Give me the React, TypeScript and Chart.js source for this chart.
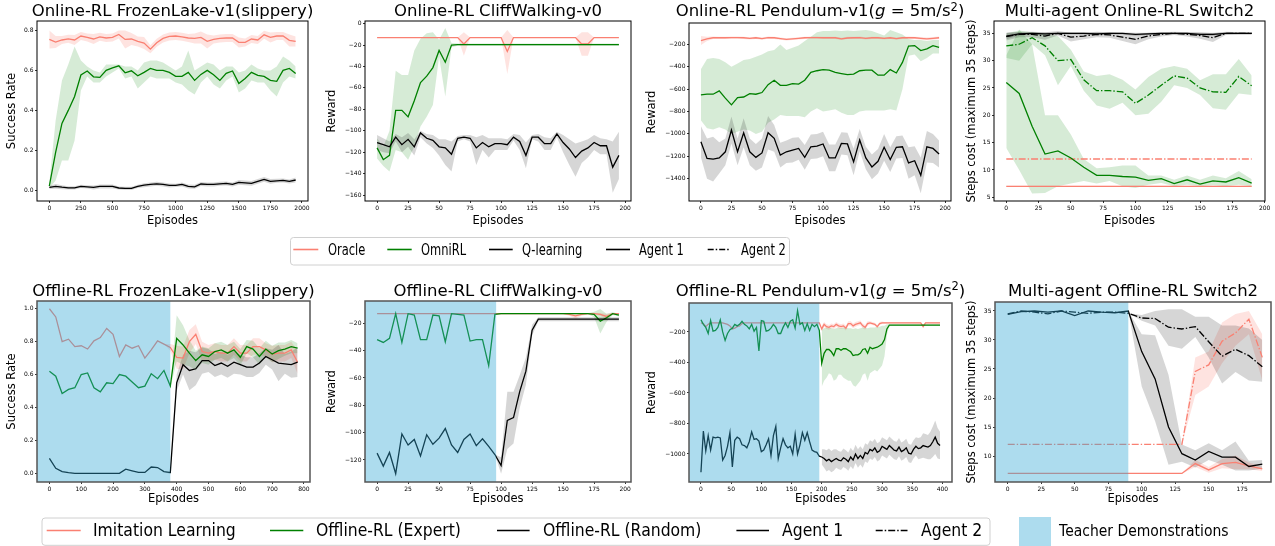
import React, { useEffect, useRef } from "react";
import { Chart, registerables } from "chart.js";
Chart.register(...registerables);

const FONT = "'DejaVu Sans', 'Noto Sans', sans-serif";
const SALMON = "#fa8072";
const GREEN = "#008000";
const BLACK = "#000000";
const SALMON_BAND = "rgba(250,128,114,0.22)";
const GREEN_BAND = "rgba(0,128,0,0.16)";
const BLACK_BAND = "rgba(0,0,0,0.16)";
const TEACHER_OVERLAY = "rgba(50,167,212,0.4)";
const TEACHER_PATCH = "#addcee";
const DASHDOT = [7, 2, 1.4, 2];

// ---------------- DATA ----------------
// Panel 1: Online-RL FrozenLake
const p1Episodes = [0,50,100,150,200,250,300,350,400,450,500,550,600,650,700,750,800,850,900,950,1000,1050,1100,1150,1200,1250,1300,1350,1400,1450,1500,1550,1600,1650,1700,1750,1800,1850,1900,1950];
const p1Oracle = [0.755,0.742,0.752,0.758,0.752,0.772,0.765,0.757,0.768,0.762,0.765,0.78,0.755,0.757,0.745,0.737,0.706,0.738,0.76,0.77,0.772,0.768,0.762,0.76,0.765,0.745,0.755,0.76,0.762,0.762,0.74,0.74,0.757,0.752,0.778,0.765,0.772,0.772,0.75,0.745];
const p1OracleSpread = [0.045,0.03,0.02,0.02,0.025,0.02,0.02,0.025,0.02,0.02,0.02,0.02,0.045,0.03,0.025,0.03,0.02,0.02,0.02,0.02,0.02,0.02,0.02,0.025,0.03,0.035,0.02,0.02,0.02,0.02,0.025,0.02,0.02,0.02,0.02,0.025,0.02,0.02,0.03,0.025];
const p1Omni = [0.022,0.19,0.335,0.40,0.47,0.577,0.597,0.568,0.565,0.60,0.613,0.623,0.588,0.598,0.573,0.59,0.61,0.60,0.60,0.59,0.57,0.57,0.59,0.55,0.58,0.60,0.578,0.55,0.585,0.597,0.535,0.56,0.59,0.575,0.57,0.55,0.545,0.60,0.61,0.585];
const p1OmniHi = [0.04,0.35,0.55,0.63,0.72,0.65,0.62,0.60,0.59,0.63,0.63,0.63,0.62,0.62,0.60,0.64,0.65,0.65,0.64,0.62,0.60,0.62,0.70,0.60,0.62,0.64,0.63,0.60,0.62,0.62,0.59,0.60,0.63,0.61,0.60,0.60,0.62,0.67,0.65,0.62];
const p1OmniLo = [0.01,0.05,0.15,0.15,0.25,0.50,0.57,0.54,0.54,0.57,0.59,0.61,0.56,0.57,0.51,0.54,0.57,0.56,0.56,0.56,0.54,0.53,0.50,0.48,0.54,0.57,0.53,0.51,0.55,0.57,0.49,0.51,0.55,0.54,0.54,0.50,0.47,0.54,0.57,0.56];
const p1Q = [0.015,0.02,0.016,0.013,0.013,0.02,0.018,0.015,0.02,0.02,0.02,0.012,0.01,0.01,0.02,0.026,0.03,0.033,0.03,0.025,0.025,0.03,0.02,0.018,0.032,0.03,0.03,0.033,0.035,0.03,0.04,0.038,0.035,0.045,0.055,0.045,0.048,0.05,0.045,0.052];
const p1QSpread = [0.008,0.012,0.01,0.008,0.008,0.008,0.008,0.01,0.01,0.01,0.01,0.008,0.008,0.008,0.008,0.01,0.01,0.01,0.01,0.01,0.008,0.01,0.01,0.01,0.01,0.01,0.01,0.01,0.01,0.01,0.012,0.012,0.012,0.012,0.012,0.012,0.01,0.01,0.01,0.012];

// Panel 2: Online-RL CliffWalking
const p2Episodes = [0,5,10,15,20,25,30,35,40,45,50,55,60,65,70,75,80,85,90,95,100,105,110,115,120,125,130,135,140,145,150,155,160,165,170,175,180,185,190,195];
const p2Oracle = [-13,-13,-13,-13,-13,-13,-13,-13,-13,-13,-13,-13,-13,-13,-19,-13,-13,-13,-13,-13,-13,-26,-13,-13,-13,-13,-13,-13,-13,-13,-13,-13,-13,-19,-19,-13,-13,-13,-13,-13];
const p2OracleLo = [-13,-13,-13,-13,-13,-13,-13,-13,-13,-13,-13,-13,-13,-13,-30,-13,-13,-13,-13,-13,-13,-47,-13,-13,-13,-13,-13,-13,-13,-13,-13,-13,-13,-30,-30,-13,-13,-13,-13,-13];
const p2OracleHi = [-13,-13,-13,-13,-13,-13,-13,-13,-13,-13,-13,-13,-13,-13,-8,-13,-13,-13,-13,-13,-13,-6,-13,-13,-13,-13,-13,-13,-13,-13,-13,-13,-13,-8,-8,-13,-13,-13,-13,-13];
const p2Omni = [-116,-127,-123,-81,-81,-87,-72,-55,-49,-41,-25,-36,-20,-19.5,-19.5,-19.5,-19.5,-19.5,-19.5,-19.5,-19.5,-19.5,-19.5,-19.5,-19.5,-19.5,-19.5,-19.5,-19.5,-19.5,-19.5,-19.5,-19.5,-19.5,-19.5,-19.5,-19.5,-19.5,-19.5,-19.5];
const p2OmniHi = [-107,-115,-100,-44,-48,-48,-25,-14,-9,-8,-15,-4,-18,-18.5,-18.5,-18.5,-18.5,-18.5,-18.5,-18.5,-18.5,-18.5,-18.5,-18.5,-18.5,-18.5,-18.5,-18.5,-18.5,-18.5,-18.5,-18.5,-18.5,-18.5,-18.5,-18.5,-18.5,-18.5,-18.5,-18.5];
const p2OmniLo = [-126,-133,-138,-118,-120,-127,-115,-96,-87,-76,-31,-68,-22,-20.5,-20.5,-20.5,-20.5,-20.5,-20.5,-20.5,-20.5,-20.5,-20.5,-20.5,-20.5,-20.5,-20.5,-20.5,-20.5,-20.5,-20.5,-20.5,-20.5,-20.5,-20.5,-20.5,-20.5,-20.5,-20.5,-20.5];
const p2Q = [-111,-113,-115,-106,-113,-108,-115,-102,-107,-109,-115,-116,-122,-107,-106,-107,-116,-111,-115,-112,-112,-113,-106,-110,-123,-106,-106,-112,-112,-103,-111,-117,-125,-119,-116,-111,-114,-114,-134,-123];
const p2QHi = [-104,-107,-110,-103,-106,-102,-108,-100,-103,-104,-108,-108,-110,-105,-104,-104,-106,-104,-107,-107,-107,-108,-103,-104,-111,-104,-103,-106,-107,-101,-104,-108,-112,-110,-108,-104,-107,-108,-110,-101];
const p2QLo = [-118,-120,-121,-110,-120,-115,-123,-106,-112,-116,-123,-132,-138,-110,-108,-110,-132,-118,-125,-118,-118,-118,-109,-118,-135,-108,-110,-118,-118,-106,-120,-132,-143,-130,-125,-118,-122,-122,-158,-145];

// Panel 3: Online-RL Pendulum
const p3Episodes = p2Episodes;
const p3Oracle = [-165,-150,-140,-140,-140,-138,-138,-140,-145,-140,-148,-138,-140,-148,-155,-150,-145,-140,-138,-138,-140,-140,-140,-150,-142,-140,-138,-145,-140,-140,-145,-140,-148,-140,-138,-140,-145,-150,-145,-140];
const p3OracleSpread = [40,20,12,10,10,10,10,10,10,10,10,10,10,10,10,10,10,10,10,10,10,10,10,10,10,10,10,10,10,10,10,10,10,10,10,10,12,12,12,12];
const p3Omni = [-650,-645,-645,-615,-680,-740,-675,-670,-640,-645,-630,-560,-520,-565,-565,-550,-555,-520,-450,-435,-425,-430,-450,-460,-470,-465,-435,-430,-430,-475,-475,-425,-455,-360,-215,-210,-255,-240,-210,-225];
const p3OmniHi = [-420,-330,-320,-330,-360,-400,-370,-340,-330,-310,-290,-260,-250,-200,-250,-230,-210,-170,-130,-90,-80,-80,-75,-80,-75,-80,-75,-70,-80,-100,-120,-70,-90,-110,-150,-160,-160,-170,-160,-160];
const p3OmniLo = [-880,-950,-960,-940,-960,-1000,-980,-960,-970,-1000,-980,-900,-870,-830,-840,-840,-840,-850,-800,-770,-800,-790,-780,-810,-830,-830,-800,-790,-790,-790,-790,-780,-790,-600,-300,-290,-350,-320,-280,-280];
const p3Q = [-1070,-1220,-1225,-1215,-1160,-965,-1160,-990,-1160,-1210,-1170,-990,-1040,-1190,-1160,-1145,-1130,-1210,-1115,-1110,-1090,-1215,-1215,-1085,-1090,-1250,-1055,-1215,-1295,-1245,-1120,-1230,-1120,-1115,-1260,-1240,-1370,-1115,-1130,-1180];
const p3QSpread = [140,180,200,140,120,120,120,130,120,120,130,150,120,110,100,110,100,110,110,110,110,120,120,100,100,120,100,100,110,110,120,110,100,100,140,130,160,140,130,120];

// Panel 4: Multi-agent Online-RL Switch2
const p4Episodes = [0,10,20,30,40,50,60,70,80,90,100,110,120,130,140,150,160,170,180,190];
const p4OracleA1 = [7,7,7,7,7,7,7,7,7,7,7,7,7,7,7,7,7,7,7,7];
const p4OracleA2 = [12,12,12,12,12,12,12,12,12,12,12,12,12,12,12,12,12,12,12,12];
const p4OracleSpread = [0.12,0.12,0.12,0.12,0.12,0.12,0.12,0.12,0.12,0.12,0.12,0.12,0.12,0.12,0.12,0.12,0.12,0.12,0.12,0.12];
const p4OmniA1 = [26,24,18,12.9,13.5,12.2,10.5,9,9,8.8,8.7,8.1,8.4,7.5,8.2,7.4,8,7.8,8.6,7.6];
const p4OmniA1Hi = [31,35.7,33,20,20,16.5,12,10.3,10.5,10.8,10.8,9,9,8.2,9,8.2,9,8.5,9.8,8.3];
const p4OmniA1Lo = [14,10,5.7,5.8,7,7.5,8,7.5,8,7,6.7,7.3,7.6,7,7.3,7,7.2,7,7.3,7];
const p4OmniA2 = [32.7,33,34.2,32.7,30,30.2,26.5,24.5,24.5,24.3,22.2,23.7,25.5,27.2,26.8,25,24.3,24.2,27.1,25.4];
const p4OmniA2Hi = [35,35.5,35.2,35,34.5,32,28,27.2,27.5,26.5,24.7,27,28.5,29,28.5,26.4,27.5,27.5,30.3,27.3];
const p4OmniA2Lo = [30.5,30,33,31,25.5,29,24.5,21.8,21.2,22.3,20,20.3,22.5,25.5,25,23.7,21.3,21,24,23.7];
const p4QA1 = [34.5,34.9,35,34.9,35,35,35,34.9,35,35,34.8,34.9,35,35,35,34.8,34.8,35,35,35];
const p4QA1Spread = [0.6,0.3,0.2,0.3,0.2,0.2,0.2,0.3,0.2,0.2,0.3,0.2,0.2,0.2,0.2,0.3,0.3,0.2,0.2,0.2];
const p4QA2 = [34.4,34.8,34.8,34.5,35,34.3,34.5,34.8,34.7,34.3,33.9,34.5,34.8,35,34.8,34.6,34.2,35,35,35];
const p4QA2Spread = [0.7,0.5,0.5,0.7,0.4,0.8,0.6,0.5,0.5,0.7,0.9,0.6,0.4,0.3,0.4,0.6,0.8,0.3,0.2,0.2];

// Panel 5: Offline-RL FrozenLake
const p5Episodes = [0,20,40,60,80,100,120,140,160,180,200,220,240,260,280,300,320,340,360,380,400,420,440,460,480,500,520,540,560,580,600,620,640,660,680,700,720,740,760,780];
const p5IL = [1.0,0.95,0.80,0.815,0.77,0.775,0.755,0.805,0.825,0.88,0.845,0.71,0.78,0.76,0.775,0.70,0.75,0.805,0.785,0.765,0.705,0.70,0.80,0.845,0.74,0.73,0.74,0.73,0.73,0.77,0.73,0.73,0.77,0.77,0.75,0.725,0.73,0.73,0.75,0.675];
const p5ILSpread = [0,0,0,0,0,0,0,0,0,0,0,0,0,0,0,0,0,0,0,0.02,0.07,0.07,0.07,0.06,0.06,0.05,0.05,0.05,0.05,0.05,0.05,0.05,0.05,0.05,0.04,0.05,0.05,0.05,0.05,0.07];
const p5Expert = [0.62,0.59,0.485,0.51,0.52,0.60,0.61,0.52,0.495,0.55,0.545,0.60,0.59,0.555,0.52,0.53,0.605,0.575,0.625,0.53,0.82,0.78,0.73,0.685,0.72,0.71,0.74,0.75,0.73,0.75,0.705,0.77,0.755,0.71,0.755,0.725,0.745,0.755,0.77,0.76];
const p5ExpertSpread = [0,0,0,0,0,0,0,0,0,0,0,0,0,0,0,0,0,0,0,0.01,0.14,0.12,0.08,0.06,0.05,0.05,0.05,0.05,0.05,0.05,0.05,0.04,0.05,0.05,0.05,0.05,0.05,0.04,0.04,0.03];
const p5Random = [0.09,0.03,0.01,0.004,0,0,0,0,0,0,0,0,0.025,0.015,0.005,0.005,0.038,0.035,0.01,0.004,0.55,0.66,0.625,0.635,0.685,0.685,0.655,0.67,0.65,0.675,0.66,0.645,0.645,0.67,0.71,0.69,0.67,0.665,0.66,0.675];
const p5RandomSpread = [0,0,0,0,0,0,0,0,0,0,0,0,0,0,0,0,0,0,0,0.01,0.05,0.06,0.12,0.1,0.08,0.07,0.07,0.07,0.07,0.07,0.06,0.06,0.06,0.06,0.05,0.06,0.11,0.06,0.08,0.09];

// Panel 6: Offline-RL CliffWalking
const p6Episodes = p2Episodes;
const p6IL = [-13,-13,-13,-13,-13,-13,-13,-13,-13,-13,-13,-13,-13,-13,-13,-13,-13,-13,-13,-13,-13,-13,-13,-13,-13,-13,-13,-13,-13,-13,-13,-13.5,-14.5,-13.5,-13,-13,-13.5,-15,-13,-13];
const p6ILSpread = [0,0,0,0,0,0,0,0,0,0,0,0,0,0,0,0,0,0,0,0,0.3,0.3,0.3,0.3,0.3,0.3,0.3,0.3,0.3,0.3,0.3,1,2,1,0.5,0.5,1,2,0.5,0.5];
const p6Expert = [-32,-34,-31,-13,-34,-13,-14,-32,-32,-14,-14.5,-33.5,-13,-13.5,-14,-33,-32,-32,-51,-13.5,-13,-13,-13,-13,-13,-13,-13,-13,-13,-13,-13,-13,-13,-13,-13,-13.5,-18.5,-16,-13,-14];
const p6ExpertSpread = [0,0,0,0,0,0,0,0,0,0,0,0,0,0,0,0,0,0,0,0,0.3,0.3,0.3,0.3,0.3,0.3,0.3,0.3,0.3,0.3,0.3,0.3,0.3,0.3,0.3,2,9,3,1,1];
const p6Random = [-115,-124.5,-114.5,-130,-101,-109,-105,-117,-101.5,-108.5,-104,-97,-109,-114.5,-105,-101,-109.5,-104.5,-110,-116,-124,-91,-89,-70,-55,-25,-17,-17,-17,-17,-17,-17,-17,-17,-17,-17,-17,-17,-17,-17];
const p6RandomSpread = [0,0,0,0,0,0,0,0,0,0,0,0,0,0,0,0,0,0,0,0,6,21,19,12,10,4,1.5,1.5,1.5,1.5,1.5,1.5,1.5,1.5,1.5,1.5,1.5,1.5,1.5,1.5];

// Panel 7: Offline-RL Pendulum
const p7Episodes = [0,4,8,12,16,20,24,28,32,36,40,44,48,52,56,60,64,68,72,76,80,84,88,92,96,100,104,108,112,116,120,124,128,132,136,140,144,148,152,156,160,164,168,172,176,180,184,188,192,196,200,204,208,212,216,220,224,228,232,236,240,244,248,252,256,260,264,268,272,276,280,284,288,292,296,300,304,308,312,316,320,324,328,332,336,340,344,348,352,356,360,364,368,372,376,380,384,388,392,396];
const p7IL = [-140,-145,-165,-150,-140,-140,-140,-140,-140,-140,-145,-150,-160,-180,-175,-165,-160,-145,-140,-140,-140,-140,-140,-140,-140,-140,-140,-140,-140,-140,-140,-140,-140,-140,-140,-140,-140,-140,-140,-140,-140,-140,-140,-140,-140,-140,-140,-140,-140,-140,
  -180,-150,-165,-170,-160,-165,-150,-160,-165,-160,-175,-145,-145,-160,-150,-145,-140,-160,-170,-145,-140,-145,-150,-165,-145,-140,-140,-140,-140,-140,-140,-140,-140,-140,-140,-140,-140,-140,-140,-140,-140,-140,-165,-140,-140,-140,-140,-140,-140,-140];
const p7ILSpreadAfter = [20,15,15,15,15,15,15,15,15,15,15,15,15,15,15,15,15,15,15,15,10,10,10,10,10,8,6,5,5,5,5,5,5,5,5,5,5,5,5,5,5,5,10,5,5,5,5,5,5,5];
const p7Expert = [-120,-150,-170,-210,-125,-195,-190,-170,-120,-200,-255,-210,-185,-175,-150,-160,-150,-130,-150,-160,-180,-150,-195,-170,-325,-125,-130,-195,-190,-175,-150,-170,-210,-210,-170,-140,-170,-130,-120,-175,-60,-150,-140,-190,-145,-190,-150,-165,-150,-190,
  -405,-340,-315,-315,-330,-355,-310,-310,-320,-310,-310,-320,-330,-355,-350,-350,-340,-315,-310,-340,-300,-310,-305,-300,-290,-280,-250,-180,-155,-155,-155,-155,-155,-155,-155,-155,-155,-155,-155,-155,-155,-155,-155,-155,-155,-155,-155,-155,-155,-155];
const p7ExpertHiAfter = [-185,-175,-170,-170,-175,-180,-175,-170,-175,-170,-170,-175,-175,-180,-175,-180,-175,-170,-170,-175,-170,-170,-170,-165,-165,-160,-160,-150,-150,-150,-150,-150,-150,-150,-150,-150,-150,-150,-150,-150,-150,-150,-150,-150,-150,-150,-150,-150,-150,-150];
const p7ExpertLoAfter = [-560,-520,-500,-470,-480,-520,-510,-480,-480,-500,-510,-520,-520,-550,-560,-540,-520,-480,-470,-520,-470,-460,-450,-460,-440,-420,-360,-220,-160,-160,-160,-160,-160,-160,-160,-160,-160,-160,-160,-160,-160,-160,-160,-160,-160,-160,-160,-160,-160,-160];
const p7Random = [-1120,-850,-980,-880,-975,-890,-895,-890,-895,-1040,-1010,-950,-860,-1085,-910,-890,-900,-940,-945,-960,-920,-855,-905,-900,-915,-985,-975,-940,-900,-1010,-880,-820,-1030,-960,-900,-940,-960,-950,-1000,-870,-1000,-940,-860,-910,-860,-920,-975,-985,-990,-1015,
  -1020,-1030,-1045,-1035,-1050,-1040,-1030,-1040,-1045,-1025,-1035,-1050,-1020,-1040,-1000,-1030,-1010,-1030,-990,-1000,-970,-980,-960,-990,-980,-950,-960,-970,-945,-960,-975,-980,-955,-985,-975,-960,-995,-1000,-970,-950,-965,-960,-945,-950,-955,-945,-920,-890,-930,-945];
const p7RandomSpreadAfter = [50,60,70,70,70,70,60,60,60,60,60,60,60,60,60,60,60,60,60,60,60,60,60,60,60,60,60,60,60,60,60,60,60,60,60,60,60,60,60,60,70,70,80,80,80,90,100,110,100,90];

// Panel 8: Multi-agent Offline-RL Switch2
const p8Episodes = p4Episodes;
const p8ILA1 = [7,7,7,7,7,7,7,7,7,7,7,7,7,7,8.7,7.6,8.7,8.9,8.3,7.8];
const p8ILA1Spread = [0.05,0.05,0.05,0.05,0.05,0.05,0.05,0.05,0.05,0.05,0.05,0.05,0.05,0.05,0.6,0.5,0.8,1.2,0.6,0.4];
const p8ILA2 = [12,12,12,12,12,12,12,12,12,12,12,12,12,12,24.6,25.7,29.8,31.2,33.6,27];
const p8ILA2Lo = [12,12,12,12,12,12,12,12,12,12,12,12,12,12,20.5,22,26,29,31,23];
const p8ILA2Hi = [12,12,12,12,12,12,12,12,12,12,12,12,12,12,27,28,33,34.5,35,31];
const p8RandA1 = [34.4,34.9,35,34.8,35,34.2,35,34.8,34.7,35,28,23.3,15,10.4,9.3,10.8,9.8,9.8,8.2,8.6];
const p8RandA1Lo = [34.4,34.9,35,34.8,35,34.2,35,34.8,34.7,35,22,16,8.5,9,8,9.3,8.5,7.5,7.5,7.8];
const p8RandA1Hi = [34.4,34.9,35,34.8,35,34.2,35,34.8,34.7,35,31,30.8,24,12,11,12.2,11,12.5,9.2,9.3];
const p8RandA2 = [34.5,35,34.8,34.5,35,34.8,34.6,34.8,34.8,34.6,33.8,33.7,32.2,31.9,32.3,29.7,27.2,28.4,27.3,25.4];
const p8RandA2Lo = [34.5,35,34.8,34.5,35,34.8,34.6,34.8,34.8,34.6,33.3,32.5,29,28.5,30.5,27,22.5,24.5,23,22.8];
const p8RandA2Hi = [34.5,35,34.8,34.5,35,34.8,34.6,34.8,34.8,34.6,34.3,35,35.3,35.3,34,34,32.5,32.5,32,30];

// tick values
const xTicks2000 = [0,250,500,750,1000,1250,1500,1750,2000];
const xTicks200 = [0,25,50,75,100,125,150,175,200];
const xTicks175 = [0,25,50,75,100,125,150,175];
const xTicks800 = [0,100,200,300,400,500,600,700,800];
const xTicks400 = [0,50,100,150,200,250,300,350,400];
const yTicksRate08 = [0,0.2,0.4,0.6,0.8];
const yTicksRate10 = [0,0.2,0.4,0.6,0.8,1.0];
const yTicksCliffOn = [0,-20,-40,-60,-80,-100,-120,-140,-160];
const yTicksCliffOff = [-20,-40,-60,-80,-100,-120];
const yTicksPendOn = [-200,-400,-600,-800,-1000,-1200,-1400];
const yTicksPendOff = [-200,-400,-600,-800,-1000];
const yTicksSwitchOn = [5,10,15,20,25,30,35];
const yTicksSwitchOff = [10,15,20,25,30,35];

// ---------------- helpers ----------------
type Band = { xs: number[]; lo: number[]; hi: number[]; color: string };
type Series = { xs: number[]; ys: number[]; color: string; dash?: boolean; band?: Band };
type Box = { l: number; t: number; r: number; b: number };
type PanelSpec = {
  key: string;
  title: React.ReactNode;
  plot: Box;
  xr: [number, number];
  yr: [number, number];
  xt: number[];
  yt: number[];
  yDec: number;
  yTitle: string;
  yTitleCx: number;
  xTitleCy: number;
  titleBase: number;
  series: Series[];
  teacher?: number;
  frame: string;
  frameW: number;
};

const spreadBand = (xs: number[], ys: number[], sp: number[], color: string): Band => ({
  xs,
  lo: ys.map((v, i) => v - sp[i]),
  hi: ys.map((v, i) => v + sp[i]),
  color,
});
const loHiBand = (xs: number[], lo: number[], hi: number[], color: string): Band => ({ xs, lo, hi, color });

const TITLE_FS = 11.5;
const HALF = TITLE_FS / 2;

function geo(p: PanelSpec) {
  const cl = Math.floor(p.yTitleCx - HALF - 2);
  const ct = Math.floor(p.plot.t - 6);
  const cr = Math.ceil(p.plot.r + 13);
  const cb = Math.ceil(p.xTitleCy + HALF);
  return {
    cl,
    ct,
    w: cr - cl,
    h: cb - ct,
    padL: p.yTitleCx - HALF - cl,
    padT: p.plot.t - ct,
    padR: cr - p.plot.r,
    padB: cb - (p.xTitleCy + HALF),
    yW: p.plot.l - (p.yTitleCx - HALF),
    xH: p.xTitleCy + HALF - p.plot.b,
  };
}

const fmt = (dec: number) => (v: any) => Number(v).toFixed(dec).replace("-", "\u2212");

function buildConfig(p: PanelSpec, g: ReturnType<typeof geo>): any {
  const datasets: any[] = [];
  p.series.forEach((s) => {
    if (!s.band) return;
    const b = s.band;
    datasets.push({
      data: b.xs.map((x, i) => ({ x, y: b.lo[i] })),
      borderWidth: 0, borderColor: "rgba(0,0,0,0)", pointRadius: 0, fill: false, order: 10,
    });
    datasets.push({
      data: b.xs.map((x, i) => ({ x, y: b.hi[i] })),
      borderWidth: 0, borderColor: "rgba(0,0,0,0)", pointRadius: 0, fill: "-1", backgroundColor: b.color, order: 10,
    });
  });
  p.series.forEach((s) => {
    datasets.push({
      data: s.xs.map((x, i) => ({ x, y: s.ys[i] })),
      borderColor: s.color, borderWidth: 1.3, borderDash: s.dash ? DASHDOT : [],
      pointRadius: 0, fill: false, tension: 0, order: 0,
    });
  });
  const tickFont = { family: FONT, size: 6 };
  const titleFont = { family: FONT, size: TITLE_FS, lineHeight: 1 };
  const grid = { display: true, drawOnChartArea: false, drawTicks: true, tickLength: 2, tickColor: "#000", tickWidth: 0.8 };
  const plugins: any[] = [];
  if (p.teacher !== undefined) {
    const bound = p.teacher;
    plugins.push({
      id: "teacher",
      afterDatasetsDraw(chart: any) {
        const { left, top, bottom } = chart.chartArea;
        const x1 = chart.scales.x.getPixelForValue(bound);
        const c = chart.ctx;
        c.save();
        c.fillStyle = TEACHER_OVERLAY;
        c.fillRect(left, top, x1 - left, bottom - top);
        c.restore();
      },
    });
  }
  plugins.push({
    id: "frame",
    afterDraw(chart: any) {
      const { left, top, right, bottom } = chart.chartArea;
      const c = chart.ctx;
      c.save();
      c.strokeStyle = p.frame;
      c.lineWidth = p.frameW;
      c.strokeRect(left, top, right - left, bottom - top);
      c.restore();
    },
  });
  return {
    type: "line",
    data: { datasets },
    plugins,
    options: {
      responsive: false,
      animation: false,
      devicePixelRatio: 1,
      events: [],
      layout: { padding: { left: g.padL, top: g.padT, right: g.padR, bottom: g.padB } },
      plugins: { legend: { display: false }, tooltip: { enabled: false }, title: { display: false } },
      scales: {
        x: {
          type: "linear", min: p.xr[0], max: p.xr[1],
          afterBuildTicks: (ax: any) => { ax.ticks = p.xt.map((v) => ({ value: v })); },
          afterFit: (ax: any) => { ax.height = g.xH; },
          ticks: { font: tickFont, color: "#000", padding: 2, autoSkip: false, maxRotation: 0, minRotation: 0, callback: fmt(0) },
          grid, border: { display: false },
          title: { display: true, text: "Episodes", font: titleFont, color: "#000", padding: 0 },
        },
        y: {
          type: "linear", min: p.yr[0], max: p.yr[1],
          afterBuildTicks: (ax: any) => { ax.ticks = p.yt.map((v) => ({ value: v })); },
          afterFit: (ax: any) => { ax.width = g.yW; },
          ticks: { font: tickFont, color: "#000", padding: 1.5, autoSkip: false, callback: fmt(p.yDec) },
          grid, border: { display: false },
          title: { display: true, text: p.yTitle, font: titleFont, color: "#000", padding: 0 },
        },
      },
    },
  };
}

function Panel({ spec }: { spec: PanelSpec }) {
  const ref = useRef<HTMLCanvasElement>(null);
  const g = geo(spec);
  useEffect(() => {
    const chart = new Chart(ref.current as HTMLCanvasElement, buildConfig(spec, g));
    return () => chart.destroy();
  }, []);
  const cx = (spec.plot.l + spec.plot.r) / 2;
  return (
    <>
      <canvas ref={ref} width={g.w} height={g.h}
        style={{ position: "absolute", left: g.cl, top: g.ct, width: g.w, height: g.h }} />
      <div style={{
        position: "absolute", left: cx, top: spec.titleBase - 13.96, transform: "translateX(-50%)",
        fontFamily: FONT, fontSize: 16.5, lineHeight: 1, whiteSpace: "nowrap", color: "#000",
      }}>{spec.title}</div>
    </>
  );
}

const pendTitle = (prefix: string) => (
  <span>
    {prefix} Pendulum-v1(<i>g</i> = 5m/s
    <span style={{ fontSize: "0.7em", position: "relative", top: "-0.5em" }}>2</span>)
  </span>
);

const TOP_FRAME = "#000";
const BOT_FRAME = "#555";

const panels: PanelSpec[] = [
  {
    key: "p1", title: "Online-RL FrozenLake-v1(slippery)",
    plot: { l: 37, t: 21, r: 308, b: 201 }, xr: [-97.5, 2047.5], yr: [-0.053, 0.847],
    xt: xTicks2000, yt: yTicksRate08, yDec: 1, yTitle: "Success Rate", yTitleCx: 12.5, xTitleCy: 221, titleBase: 17.3,
    frame: TOP_FRAME, frameW: 1,
    series: [
      { xs: p1Episodes, ys: p1Q, color: BLACK, band: spreadBand(p1Episodes, p1Q, p1QSpread, BLACK_BAND) },
      { xs: p1Episodes, ys: p1Omni, color: GREEN, band: loHiBand(p1Episodes, p1OmniLo, p1OmniHi, GREEN_BAND) },
      { xs: p1Episodes, ys: p1Oracle, color: SALMON, band: spreadBand(p1Episodes, p1Oracle, p1OracleSpread, SALMON_BAND) },
    ],
  },
  {
    key: "p2", title: "Online-RL CliffWalking-v0",
    plot: { l: 365, t: 21, r: 631, b: 201 }, xr: [-9.75, 204.75], yr: [-165.6, 2.5],
    xt: xTicks200, yt: yTicksCliffOn, yDec: 0, yTitle: "Reward", yTitleCx: 332, xTitleCy: 221, titleBase: 17.3,
    frame: TOP_FRAME, frameW: 1,
    series: [
      { xs: p2Episodes, ys: p2Q, color: BLACK, band: loHiBand(p2Episodes, p2QLo, p2QHi, BLACK_BAND) },
      { xs: p2Episodes, ys: p2Omni, color: GREEN, band: loHiBand(p2Episodes, p2OmniLo, p2OmniHi, GREEN_BAND) },
      { xs: p2Episodes, ys: p2Oracle, color: SALMON, band: loHiBand(p2Episodes, p2OracleLo, p2OracleHi, SALMON_BAND) },
    ],
  },
  {
    key: "p3", title: pendTitle("Online-RL"),
    plot: { l: 689, t: 23, r: 951, b: 201 }, xr: [-9.75, 204.75], yr: [-1600, -8],
    xt: xTicks200, yt: yTicksPendOn, yDec: 0, yTitle: "Reward", yTitleCx: 652, xTitleCy: 221, titleBase: 17.3,
    frame: TOP_FRAME, frameW: 1,
    series: [
      { xs: p3Episodes, ys: p3Q, color: BLACK, band: spreadBand(p3Episodes, p3Q, p3QSpread, BLACK_BAND) },
      { xs: p3Episodes, ys: p3Omni, color: GREEN, band: loHiBand(p3Episodes, p3OmniLo, p3OmniHi, GREEN_BAND) },
      { xs: p3Episodes, ys: p3Oracle, color: SALMON, band: spreadBand(p3Episodes, p3Oracle, p3OracleSpread, SALMON_BAND) },
    ],
  },
  {
    key: "p4", title: "Multi-agent Online-RL Switch2",
    plot: { l: 994, t: 21, r: 1265, b: 201 }, xr: [-9.5, 200.3], yr: [4.32, 37.25],
    xt: xTicks200, yt: yTicksSwitchOn, yDec: 0, yTitle: "Steps cost (maximum 35 steps)", yTitleCx: 972.3, xTitleCy: 221, titleBase: 17.3,
    frame: TOP_FRAME, frameW: 1,
    series: [
      { xs: p4Episodes, ys: p4QA1, color: BLACK, band: spreadBand(p4Episodes, p4QA1, p4QA1Spread, BLACK_BAND) },
      { xs: p4Episodes, ys: p4QA2, color: BLACK, dash: true, band: spreadBand(p4Episodes, p4QA2, p4QA2Spread, BLACK_BAND) },
      { xs: p4Episodes, ys: p4OmniA1, color: GREEN, band: loHiBand(p4Episodes, p4OmniA1Lo, p4OmniA1Hi, GREEN_BAND) },
      { xs: p4Episodes, ys: p4OmniA2, color: GREEN, dash: true, band: loHiBand(p4Episodes, p4OmniA2Lo, p4OmniA2Hi, GREEN_BAND) },
      { xs: p4Episodes, ys: p4OracleA1, color: SALMON, band: spreadBand(p4Episodes, p4OracleA1, p4OracleSpread, SALMON_BAND) },
      { xs: p4Episodes, ys: p4OracleA2, color: SALMON, dash: true },
    ],
  },
  {
    key: "p5", title: "Offline-RL FrozenLake-v1(slippery)",
    plot: { l: 37, t: 301, r: 310, b: 482 }, xr: [-39, 819], yr: [-0.053, 1.047],
    xt: xTicks800, yt: yTicksRate10, yDec: 1, yTitle: "Success Rate", yTitleCx: 12, xTitleCy: 499, titleBase: 296.7,
    frame: BOT_FRAME, frameW: 1.5, teacher: 380,
    series: [
      { xs: p5Episodes, ys: p5Random, color: BLACK, band: spreadBand(p5Episodes, p5Random, p5RandomSpread, BLACK_BAND) },
      { xs: p5Episodes, ys: p5Expert, color: GREEN, band: spreadBand(p5Episodes, p5Expert, p5ExpertSpread, GREEN_BAND) },
      { xs: p5Episodes, ys: p5IL, color: SALMON, band: spreadBand(p5Episodes, p5IL, p5ILSpread, SALMON_BAND) },
    ],
  },
  {
    key: "p6", title: "Offline-RL CliffWalking-v0",
    plot: { l: 365, t: 301, r: 631, b: 482 }, xr: [-9.75, 204.75], yr: [-136.1, -3.7],
    xt: xTicks200, yt: yTicksCliffOff, yDec: 0, yTitle: "Reward", yTitleCx: 332, xTitleCy: 499, titleBase: 296.7,
    frame: BOT_FRAME, frameW: 1.5, teacher: 96,
    series: [
      { xs: p6Episodes, ys: p6Random, color: BLACK, band: spreadBand(p6Episodes, p6Random, p6RandomSpread, BLACK_BAND) },
      { xs: p6Episodes, ys: p6Expert, color: GREEN, band: spreadBand(p6Episodes, p6Expert, p6ExpertSpread, GREEN_BAND) },
      { xs: p6Episodes, ys: p6IL, color: SALMON, band: spreadBand(p6Episodes, p6IL, p6ILSpread, SALMON_BAND) },
    ],
  },
  {
    key: "p7", title: pendTitle("Offline-RL"),
    plot: { l: 689, t: 303, r: 952, b: 482 }, xr: [-19.8, 415.8], yr: [-1184, -10],
    xt: xTicks400, yt: yTicksPendOff, yDec: 0, yTitle: "Reward", yTitleCx: 652, xTitleCy: 499, titleBase: 296.7,
    frame: BOT_FRAME, frameW: 1.5, teacher: 196,
    series: [
      { xs: p7Episodes, ys: p7Random, color: BLACK, band: spreadBand(p7Episodes.slice(50), p7Random.slice(50), p7RandomSpreadAfter, BLACK_BAND) },
      { xs: p7Episodes, ys: p7Expert, color: GREEN, band: loHiBand(p7Episodes.slice(50), p7ExpertLoAfter, p7ExpertHiAfter, GREEN_BAND) },
      { xs: p7Episodes, ys: p7IL, color: SALMON, band: spreadBand(p7Episodes.slice(50), p7IL.slice(50), p7ILSpreadAfter, SALMON_BAND) },
    ],
  },
  {
    key: "p8", title: "Multi-agent Offline-RL Switch2",
    plot: { l: 995, t: 302, r: 1271, b: 482 }, xr: [-9.5, 196.5], yr: [5.52, 36.55],
    xt: xTicks175, yt: yTicksSwitchOff, yDec: 0, yTitle: "Steps cost (maximum 35 steps)", yTitleCx: 972.3, xTitleCy: 499, titleBase: 296.7,
    frame: BOT_FRAME, frameW: 1.5, teacher: 90,
    series: [
      { xs: p8Episodes, ys: p8RandA1, color: BLACK, band: loHiBand(p8Episodes, p8RandA1Lo, p8RandA1Hi, BLACK_BAND) },
      { xs: p8Episodes, ys: p8RandA2, color: BLACK, dash: true, band: loHiBand(p8Episodes, p8RandA2Lo, p8RandA2Hi, BLACK_BAND) },
      { xs: p8Episodes, ys: p8ILA1, color: SALMON, band: spreadBand(p8Episodes, p8ILA1, p8ILA1Spread, SALMON_BAND) },
      { xs: p8Episodes, ys: p8ILA2, color: SALMON, dash: true, band: loHiBand(p8Episodes, p8ILA2Lo, p8ILA2Hi, SALMON_BAND) },
    ],
  },
];

// ---------------- legends ----------------
type LegItem = { x1: number; x2: number; color: string; dash?: boolean; label: string; tx: number };
const topLegendItems: LegItem[] = [
  { x1: 293.3, x2: 318.3, color: SALMON, label: "Oracle", tx: 327.7 },
  { x1: 387.3, x2: 411.7, color: GREEN, label: "OmniRL", tx: 421 },
  { x1: 489, x2: 512.7, color: BLACK, label: "Q-learning", tx: 522.3 },
  { x1: 606, x2: 630, color: BLACK, label: "Agent 1", tx: 639 },
  { x1: 707.7, x2: 730.7, color: BLACK, dash: true, label: "Agent 2", tx: 740.7 },
];
const bottomLegendItems: LegItem[] = [
  { x1: 46.7, x2: 80.7, color: SALMON, label: "Imitation Learning", tx: 93.3 },
  { x1: 270, x2: 303.3, color: GREEN, label: "Offline-RL (Expert)", tx: 316 },
  { x1: 497, x2: 529.6, color: BLACK, label: "Offline-RL (Random)", tx: 543 },
  { x1: 736.4, x2: 769, color: BLACK, label: "Agent 1", tx: 781.8 },
  { x1: 875.7, x2: 907.5, color: BLACK, dash: true, label: "Agent 2", tx: 921 },
];

function Legends() {
  const textStyle = (left: number, top: number, size: number, sx: number): React.CSSProperties => ({
    position: "absolute", left, top, fontFamily: FONT, fontSize: size, lineHeight: 1,
    whiteSpace: "nowrap", color: "#000", transform: `scaleX(${sx})`, transformOrigin: "left top",
  });
  return (
    <>
      <svg width={1275} height={546} style={{ position: "absolute", left: 0, top: 0 }}>
        <rect x={290.5} y={237.5} width={499} height={27.5} rx={3} fill="#fff" stroke="#d0d0d0" strokeWidth={1} />
        {topLegendItems.map((it) => (
          <line key={it.label} x1={it.x1} x2={it.x2} y1={249.5} y2={249.5} stroke={it.color} strokeWidth={1.6}
            strokeDasharray={it.dash ? "6 2 1.5 2" : undefined} />
        ))}
        <rect x={42} y={518} width={948} height={27.3} rx={3} fill="#fff" stroke="#d0d0d0" strokeWidth={1} />
        {bottomLegendItems.map((it) => (
          <line key={it.label} x1={it.x1} x2={it.x2} y1={530.5} y2={530.5} stroke={it.color} strokeWidth={1.6}
            strokeDasharray={it.dash ? "7 2 1.5 2" : undefined} />
        ))}
        <rect x={1019} y={517} width={32} height={29} fill={TEACHER_PATCH} />
      </svg>
      {topLegendItems.map((it) => (
        <div key={"t" + it.label} style={textStyle(it.tx, 242.5, 15.5, 0.74)}>{it.label}</div>
      ))}
      {bottomLegendItems.map((it) => (
        <div key={"b" + it.label} style={textStyle(it.tx, 522.3, 17, 0.92)}>{it.label}</div>
      ))}
      <div style={textStyle(1058.6, 523.3, 16, 0.87)}>Teacher Demonstrations</div>
    </>
  );
}

export default function App() {
  return (
    <div style={{ position: "absolute", left: 0, top: 0, width: 1275, height: 546, overflow: "hidden", background: "#fff" }}>
      {panels.map((p) => <Panel key={p.key} spec={p} />)}
      <Legends />
    </div>
  );
}
